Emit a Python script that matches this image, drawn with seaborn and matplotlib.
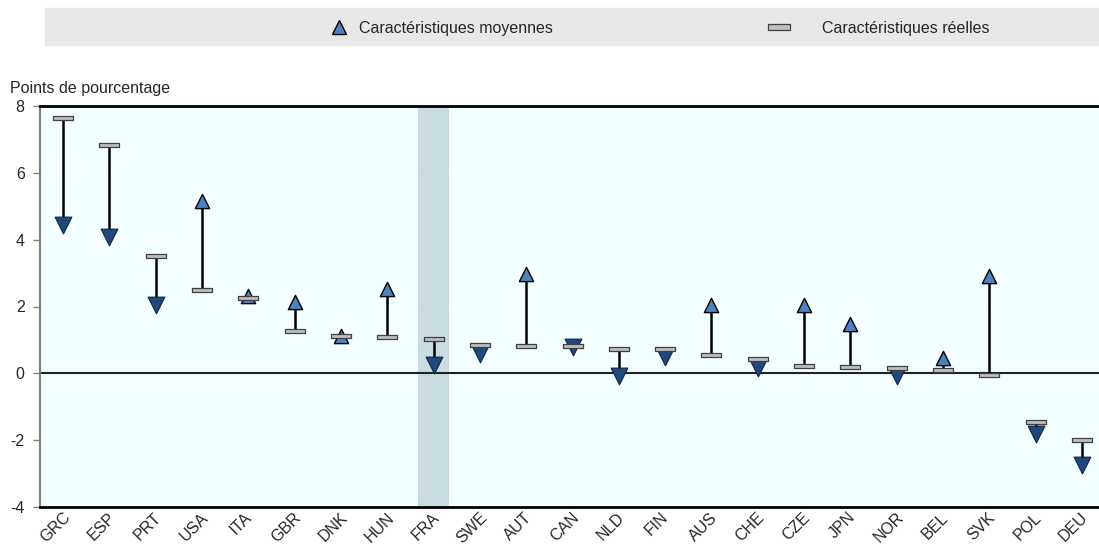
import matplotlib
matplotlib.use("Agg")
import matplotlib.pyplot as plt
import matplotlib.transforms as mtransforms
from matplotlib.lines import Line2D
from matplotlib.patches import Rectangle
from matplotlib.path import Path
import numpy as np
import pandas as pd
import seaborn as sns

countries = ["GRC", "ESP", "PRT", "USA", "ITA", "GBR", "DNK", "HUN", "FRA", "SWE", "AUT", "CAN",
             "NLD", "FIN", "AUS", "CHE", "CZE", "JPN", "NOR", "BEL", "SVK", "POL", "DEU"]
actual = [7.63, 6.83, 3.50, 2.49, 2.26, 1.26, 1.11, 1.08, 1.03, 0.86, 0.83, 0.82,
          0.73, 0.73, 0.55, 0.42, 0.22, 0.18, 0.16, 0.09, -0.06, -1.46, -2.00]
average = [4.43, 4.09, 2.03, 5.16, 2.32, 2.14, 1.13, 2.51, 0.25, 0.58, 2.98, 0.78,
           -0.08, 0.50, 2.04, 0.17, 2.03, 1.48, -0.07, 0.45, 2.91, -1.82, -2.74]
highlight = "FRA"

label_avg = "Caractéristiques moyennes"
label_act = "Caractéristiques réelles"
ylabel = "Points de pourcentage"

df = pd.DataFrame({"pays": countries, "reel": actual, "moyen": average})
df["pos"] = np.arange(len(df))
up = df[df["moyen"] >= df["reel"]]
down = df[df["moyen"] < df["reel"]]

sns.set_style("white")
plt.rcParams["font.family"] = ["Liberation Sans", "DejaVu Sans"]
plt.rcParams["axes.unicode_minus"] = False

blue_up = "#4F81BD"
blue_down = "#1F497D"
bar_grey = "#BFBFBF"
fs = 11.5

# flat bar marker for the actual values
bar_marker = Path([(-1, -0.26), (1, -0.26), (1, 0.26), (-1, 0.26), (-1, -0.26)],
                  [Path.MOVETO, Path.LINETO, Path.LINETO, Path.LINETO, Path.CLOSEPOLY])

fig = plt.figure(figsize=(10.99, 5.5), dpi=100)
ax = fig.add_axes([40 / 1099, 43 / 550, 1059 / 1099, 401 / 550])
ax.set_facecolor("#F2FEFF")

# highlighted country
hpos = countries.index(highlight)
ax.axvspan(hpos - 0.335, hpos + 0.335, color="#C9DDE1", zorder=1, lw=0)

ax.vlines(df["pos"], df["reel"], df["moyen"], color="black", lw=1.8, zorder=3)
sns.scatterplot(data=up, x="pos", y="moyen", marker="^", s=105, color=blue_up,
                edgecolor="black", linewidth=1, zorder=4, legend=False, ax=ax)
sns.scatterplot(data=down, x="pos", y="moyen", marker="v", s=145, color=blue_down,
                edgecolor="#10243F", linewidth=0.8, zorder=4, legend=False, ax=ax)
sns.scatterplot(data=df, x="pos", y="reel", marker=bar_marker, s=190, color=bar_grey,
                edgecolor="#404040", linewidth=0.9, zorder=5, legend=False, ax=ax)

ax.axhline(0, color="#222222", lw=1.5, zorder=2)

ax.set_xlim(-0.5, 22.37)
ax.set_ylim(-4, 8)
ax.set_yticks(np.arange(-4, 9, 2))
ax.yaxis.grid(True, color="white", lw=1.2)
ax.set_axisbelow(True)
ax.set_xlabel("")
ax.set_ylabel("")
ax.set_xticks(df["pos"])
ax.set_xticklabels(countries, rotation=45, ha="center", fontsize=fs)
ax.tick_params(axis="x", length=0, pad=2)
ax.tick_params(axis="y", length=5, color="#808080", width=1, labelsize=fs, pad=6, left=True)
offset = mtransforms.ScaledTranslation(-8 / 100, 0, fig.dpi_scale_trans)
for lbl in ax.get_xticklabels():
    lbl.set_transform(lbl.get_transform() + offset)

for side in ["top", "bottom"]:
    ax.spines[side].set_color("black")
    ax.spines[side].set_linewidth(2)
ax.spines["left"].set_color("#808080")
ax.spines["left"].set_linewidth(1.5)
ax.spines["right"].set_visible(False)

fig.text(10 / 1099, 1 - 88 / 550, ylabel, fontsize=fs, va="center", ha="left")

# legend band
fig.patches.append(Rectangle((45 / 1099, 1 - 45 / 550), 1054 / 1099, 37 / 550,
                             transform=fig.transFigure, color="#E8E8E8", zorder=0))
h_avg = Line2D([], [], ls="none", marker="^", ms=10, mfc=blue_up, mec="black", mew=1)
h_act = Line2D([], [], ls="none", marker=bar_marker, ms=16, mfc=bar_grey, mec="#404040", mew=0.9)
fig.legend([h_avg], [label_avg], loc="center left", bbox_to_anchor=(327 / 1099, 1 - 28 / 550),
           frameon=False, borderpad=0, borderaxespad=0, handlelength=1.5, handletextpad=0.5,
           fontsize=fs)
fig.legend([h_act], [label_act], loc="center left", bbox_to_anchor=(745 / 1099, 1 - 28 / 550),
           frameon=False, borderpad=0, borderaxespad=0, handlelength=4.3, handletextpad=0.5,
           fontsize=fs)

fig.savefig("out.png", dpi=100)
